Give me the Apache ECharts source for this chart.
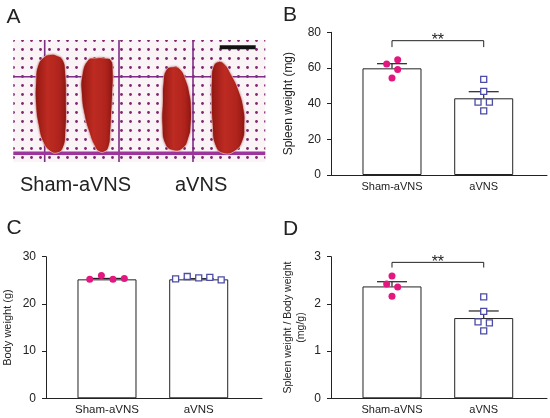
<!DOCTYPE html>
<html>
<head>
<meta charset="utf-8">
<script src="https://cdn.jsdelivr.net/npm/echarts@6.0.0/dist/echarts.min.js"></script>
<style>
  html, body { margin: 0; padding: 0; background: #fff; }
  #main { width: 550px; height: 418px; }
</style>
</head>
<body>
<div id="main"></div>
<script>
// groups
var categories = ['Sham-aVNS', 'aVNS'];

// B: spleen weight (mg)
var spleenMean = [59.8, 43.0];
var spleenSem = [2.6, 3.7];
var spleenSham = [62.2, 64.6, 59.2, 54.4];
var spleenAvns = [53.6, 46.9, 40.9, 40.9, 36.0];
var spleenShamJit = [-0.058, 0.062, 0.062, 0];
var spleenAvnsJit = [0, 0, -0.062, 0.062, 0];
var spleenSig = [75.3, 71.7];

// C: body weight (g)
var bodyMean = [25.2, 25.2];
var bodySem = [0.2, 0.15];
var bodySham = [25.2, 26.0, 25.2, 25.4];
var bodyAvns = [25.3, 25.8, 25.5, 25.6, 25.1];
var bodyShamJit = [-0.188, -0.061, 0.065, 0.189];
var bodyAvnsJit = [-0.252, -0.125, 0, 0.121, 0.245];

// D: spleen / body weight (mg/g)
var ratioMean = [2.37, 1.70];
var ratioSem = [0.10, 0.15];
var ratioSham = [2.59, 2.42, 2.36, 2.16];
var ratioAvns = [2.15, 1.84, 1.62, 1.60, 1.43];
var ratioShamJit = [0, -0.058, 0.062, 0];
var ratioAvnsJit = [0, 0, -0.062, 0.062, 0];
var ratioSig = [2.88, 2.77];

var INK = '#222';
var PINK = '#e2177f';
var BLUE = '#4c4ca6';
var FONT = 'Liberation Sans, Arial, sans-serif';

var myChart = echarts.init(document.getElementById('main'));

// dotted paper pattern for the photo in A
var tile = document.createElement('canvas');
tile.width = 9; tile.height = 9;
var tc = tile.getContext('2d');
tc.fillStyle = '#faf4f7';
tc.fillRect(0, 0, 9, 9);
tc.fillStyle = '#80256f';
tc.beginPath();
tc.arc(4.5, 4.5, 1.4, 0, Math.PI * 2);
tc.fill();

function pts(vals, jit, idx) {
    return vals.map(function (v, i) { return [idx + 1 + jit[i], v]; });
}
function bars(means) {
    return means.map(function (v, i) { return [i + 1, v]; });
}
function errs(means, sems) {
    return means.map(function (v, i) { return [i + 1, v, sems[i]]; });
}

function errRender(params, api) {
    var x = api.value(0), m = api.value(1), s = api.value(2);
    var p0 = api.coord([x, m]);
    var p1 = api.coord([x, m + s]);
    var st = { stroke: INK, lineWidth: 1.2 };
    return {
        type: 'group',
        children: [
            { type: 'line', shape: { x1: p0[0], y1: p0[1], x2: p1[0], y2: p1[1] }, style: st },
            { type: 'line', shape: { x1: p1[0] - 15, y1: p1[1], x2: p1[0] + 15, y2: p1[1] }, style: st }
        ]
    };
}

function sigRender(params, api) {
    var a = api.coord([api.value(0), api.value(2)]);
    var b = api.coord([api.value(1), api.value(2)]);
    var d = api.coord([api.value(0), api.value(3)]);
    return {
        type: 'group',
        children: [
            { type: 'polyline', shape: { points: [[a[0], d[1]], a, b, [b[0], d[1]]] },
              style: { stroke: INK, lineWidth: 1, fill: null } },
            { type: 'text', x: (a[0] + b[0]) / 2, y: a[1],
              style: { text: '**', fontSize: 16, fontFamily: FONT, fill: INK,
                       align: 'center', verticalAlign: 'middle' } }
        ]
    };
}

function panelSeries(k, means, sems, sham, shamJit, avns, avnsJit, sig) {
    var list = [
        { type: 'bar', xAxisIndex: k, yAxisIndex: k, data: bars(means), barWidth: 59,
          itemStyle: { color: '#fff', borderColor: INK, borderWidth: 1 }, silent: true },
        { type: 'custom', xAxisIndex: k, yAxisIndex: k, data: errs(means, sems), renderItem: errRender },
        { type: 'scatter', xAxisIndex: k, yAxisIndex: k, data: pts(sham, shamJit, 0),
          symbol: 'circle', symbolSize: 7, itemStyle: { color: PINK, opacity: 1 } },
        { type: 'scatter', xAxisIndex: k, yAxisIndex: k, data: pts(avns, avnsJit, 1),
          symbol: 'rect', symbolSize: 6,
          itemStyle: { color: '#fff', borderColor: BLUE, borderWidth: 1.3, opacity: 1 } }
    ];
    if (sig) {
        list.push({ type: 'custom', xAxisIndex: k, yAxisIndex: k,
                    data: [[1, 2, sig[0], sig[1]]], renderItem: sigRender });
    }
    return list;
}

function xAx(k, size) {
    return {
        type: 'value', gridIndex: k, min: 0.335, max: 2.69,
        axisLine: { show: true, lineStyle: { color: INK, width: 1 } },
        axisTick: { show: false },
        splitLine: { show: false },
        axisLabel: {
            customValues: [1, 2], margin: 6, color: INK, fontSize: size, fontFamily: FONT,
            formatter: function (v) { return categories[Math.round(v) - 1]; }
        }
    };
}

function yAx(k, max, step, name, nameSize, gap) {
    return {
        type: 'value', gridIndex: k, min: 0, max: max, interval: step,
        name: name, nameLocation: 'middle', nameGap: gap, nameRotate: 90,
        nameTextStyle: { color: INK, fontSize: nameSize, fontFamily: FONT, lineHeight: 12.5, align: 'center' },
        axisLine: { show: true, lineStyle: { color: INK, width: 1 } },
        axisTick: { show: true, length: 4, lineStyle: { color: INK } },
        splitLine: { show: false },
        axisLabel: { margin: 10, color: INK, fontSize: 12, fontFamily: FONT }
    };
}

function spleen(points) {
    return {
        type: 'polygon', shape: { points: points, smooth: 0.5 },
        style: {
            fill: new echarts.graphic.LinearGradient(0, 0, 1, 0, [
                { offset: 0, color: '#901712' },
                { offset: 0.4, color: '#bd2b22' },
                { offset: 0.75, color: '#b0241d' },
                { offset: 1, color: '#8c1512' }
            ]),
            stroke: 'rgba(255,225,225,0.6)', lineWidth: 1,
            shadowBlur: 2, shadowColor: 'rgba(90,20,20,0.35)'
        }
    };
}

var letterStyle = { fontSize: 21, fontFamily: FONT, fill: INK, verticalAlign: 'middle' };
var GRIDLINE = '#7d2d86';

var option = {
    animation: false,
    textStyle: { fontFamily: FONT },
    grid: [
        { left: 331, top: 32.3, width: 216, height: 142.7 },
        { left: 46, top: 256.7, width: 216, height: 141.6 },
        { left: 331, top: 256.7, width: 216, height: 141.6 }
    ],
    xAxis: [xAx(0, 11), xAx(1, 11.5), xAx(2, 11)],
    yAxis: [
        yAx(0, 80, 20, 'Spleen weight (mg)', 12, 36),
        yAx(1, 30, 10, 'Body weight (g)', 11, 32),
        yAx(2, 3, 1, 'Spleen weight / Body weight\n(mg/g)', 10.5, 24)
    ],
    series: [].concat(
        panelSeries(0, spleenMean, spleenSem, spleenSham, spleenShamJit, spleenAvns, spleenAvnsJit, spleenSig),
        panelSeries(1, bodyMean, bodySem, bodySham, bodyShamJit, bodyAvns, bodyAvnsJit, null),
        panelSeries(2, ratioMean, ratioSem, ratioSham, ratioShamJit, ratioAvns, ratioAvnsJit, ratioSig)
    ),
    graphic: [
        // photo of the spleens (panel A)
        { type: 'rect', shape: { x: 13.3, y: 40, width: 252, height: 122 },
          style: { fill: { image: tile, repeat: 'repeat' } }, z: 0 },
        { type: 'rect', shape: { x: 43.9, y: 40, width: 1.6, height: 122 }, style: { fill: GRIDLINE } },
        { type: 'rect', shape: { x: 118.2, y: 40, width: 1.6, height: 122 }, style: { fill: GRIDLINE } },
        { type: 'rect', shape: { x: 192.2, y: 40, width: 1.6, height: 122 }, style: { fill: GRIDLINE } },
        { type: 'rect', shape: { x: 13.3, y: 76, width: 252, height: 1.6 }, style: { fill: GRIDLINE } },
        { type: 'rect', shape: { x: 13.3, y: 151.5, width: 252, height: 3.6 }, style: { fill: '#9c359c' } },
        spleen([[44,57],[50,54.5],[57,55.5],[63,60],[65.5,72],[66.3,100],[65.7,133],[63,148],[57,153],[50,151],[43,142],[38.5,126],[35.7,105],[35.7,82],[38,65]]),
        spleen([[88,60],[96,58],[104,58],[111,60],[113,70],[112.5,95],[111.5,115],[110.5,133],[109,146],[105,151.5],[99,151.5],[94,145],[89,132],[84.5,116],[81.5,95],[82,75]]),
        spleen([[166,70],[173,66.7],[180,69],[186,80],[190,95],[191.3,107],[191,125],[189,137],[183,148.3],[173,150.5],[165,144],[162,125],[162.5,100],[163,84]]),
        spleen([[213,67],[218,61.7],[224,63.5],[231,74],[239,91],[244,110],[244.7,125],[243,140],[235,151],[223,153.3],[215,145],[212.3,125],[211.3,100],[211.5,80]]),
        { type: 'rect', shape: { x: 219.7, y: 45.2, width: 36, height: 4 }, style: { fill: '#111' } },
        { type: 'text', x: 20, y: 185.5,
          style: { text: 'Sham-aVNS', fontSize: 20, fontFamily: FONT, fill: INK, verticalAlign: 'middle' } },
        { type: 'text', x: 175, y: 185.5,
          style: { text: 'aVNS', fontSize: 20, fontFamily: FONT, fill: INK, verticalAlign: 'middle' } },
        // panel letters
        { type: 'text', x: 6.5, y: 17, style: Object.assign({ text: 'A' }, letterStyle) },
        { type: 'text', x: 283, y: 15.5, style: Object.assign({ text: 'B' }, letterStyle) },
        { type: 'text', x: 6.5, y: 228.5, style: Object.assign({ text: 'C' }, letterStyle) },
        { type: 'text', x: 283, y: 229.5, style: Object.assign({ text: 'D' }, letterStyle) }
    ]
};

myChart.setOption(option);
</script>
</body>
</html>
